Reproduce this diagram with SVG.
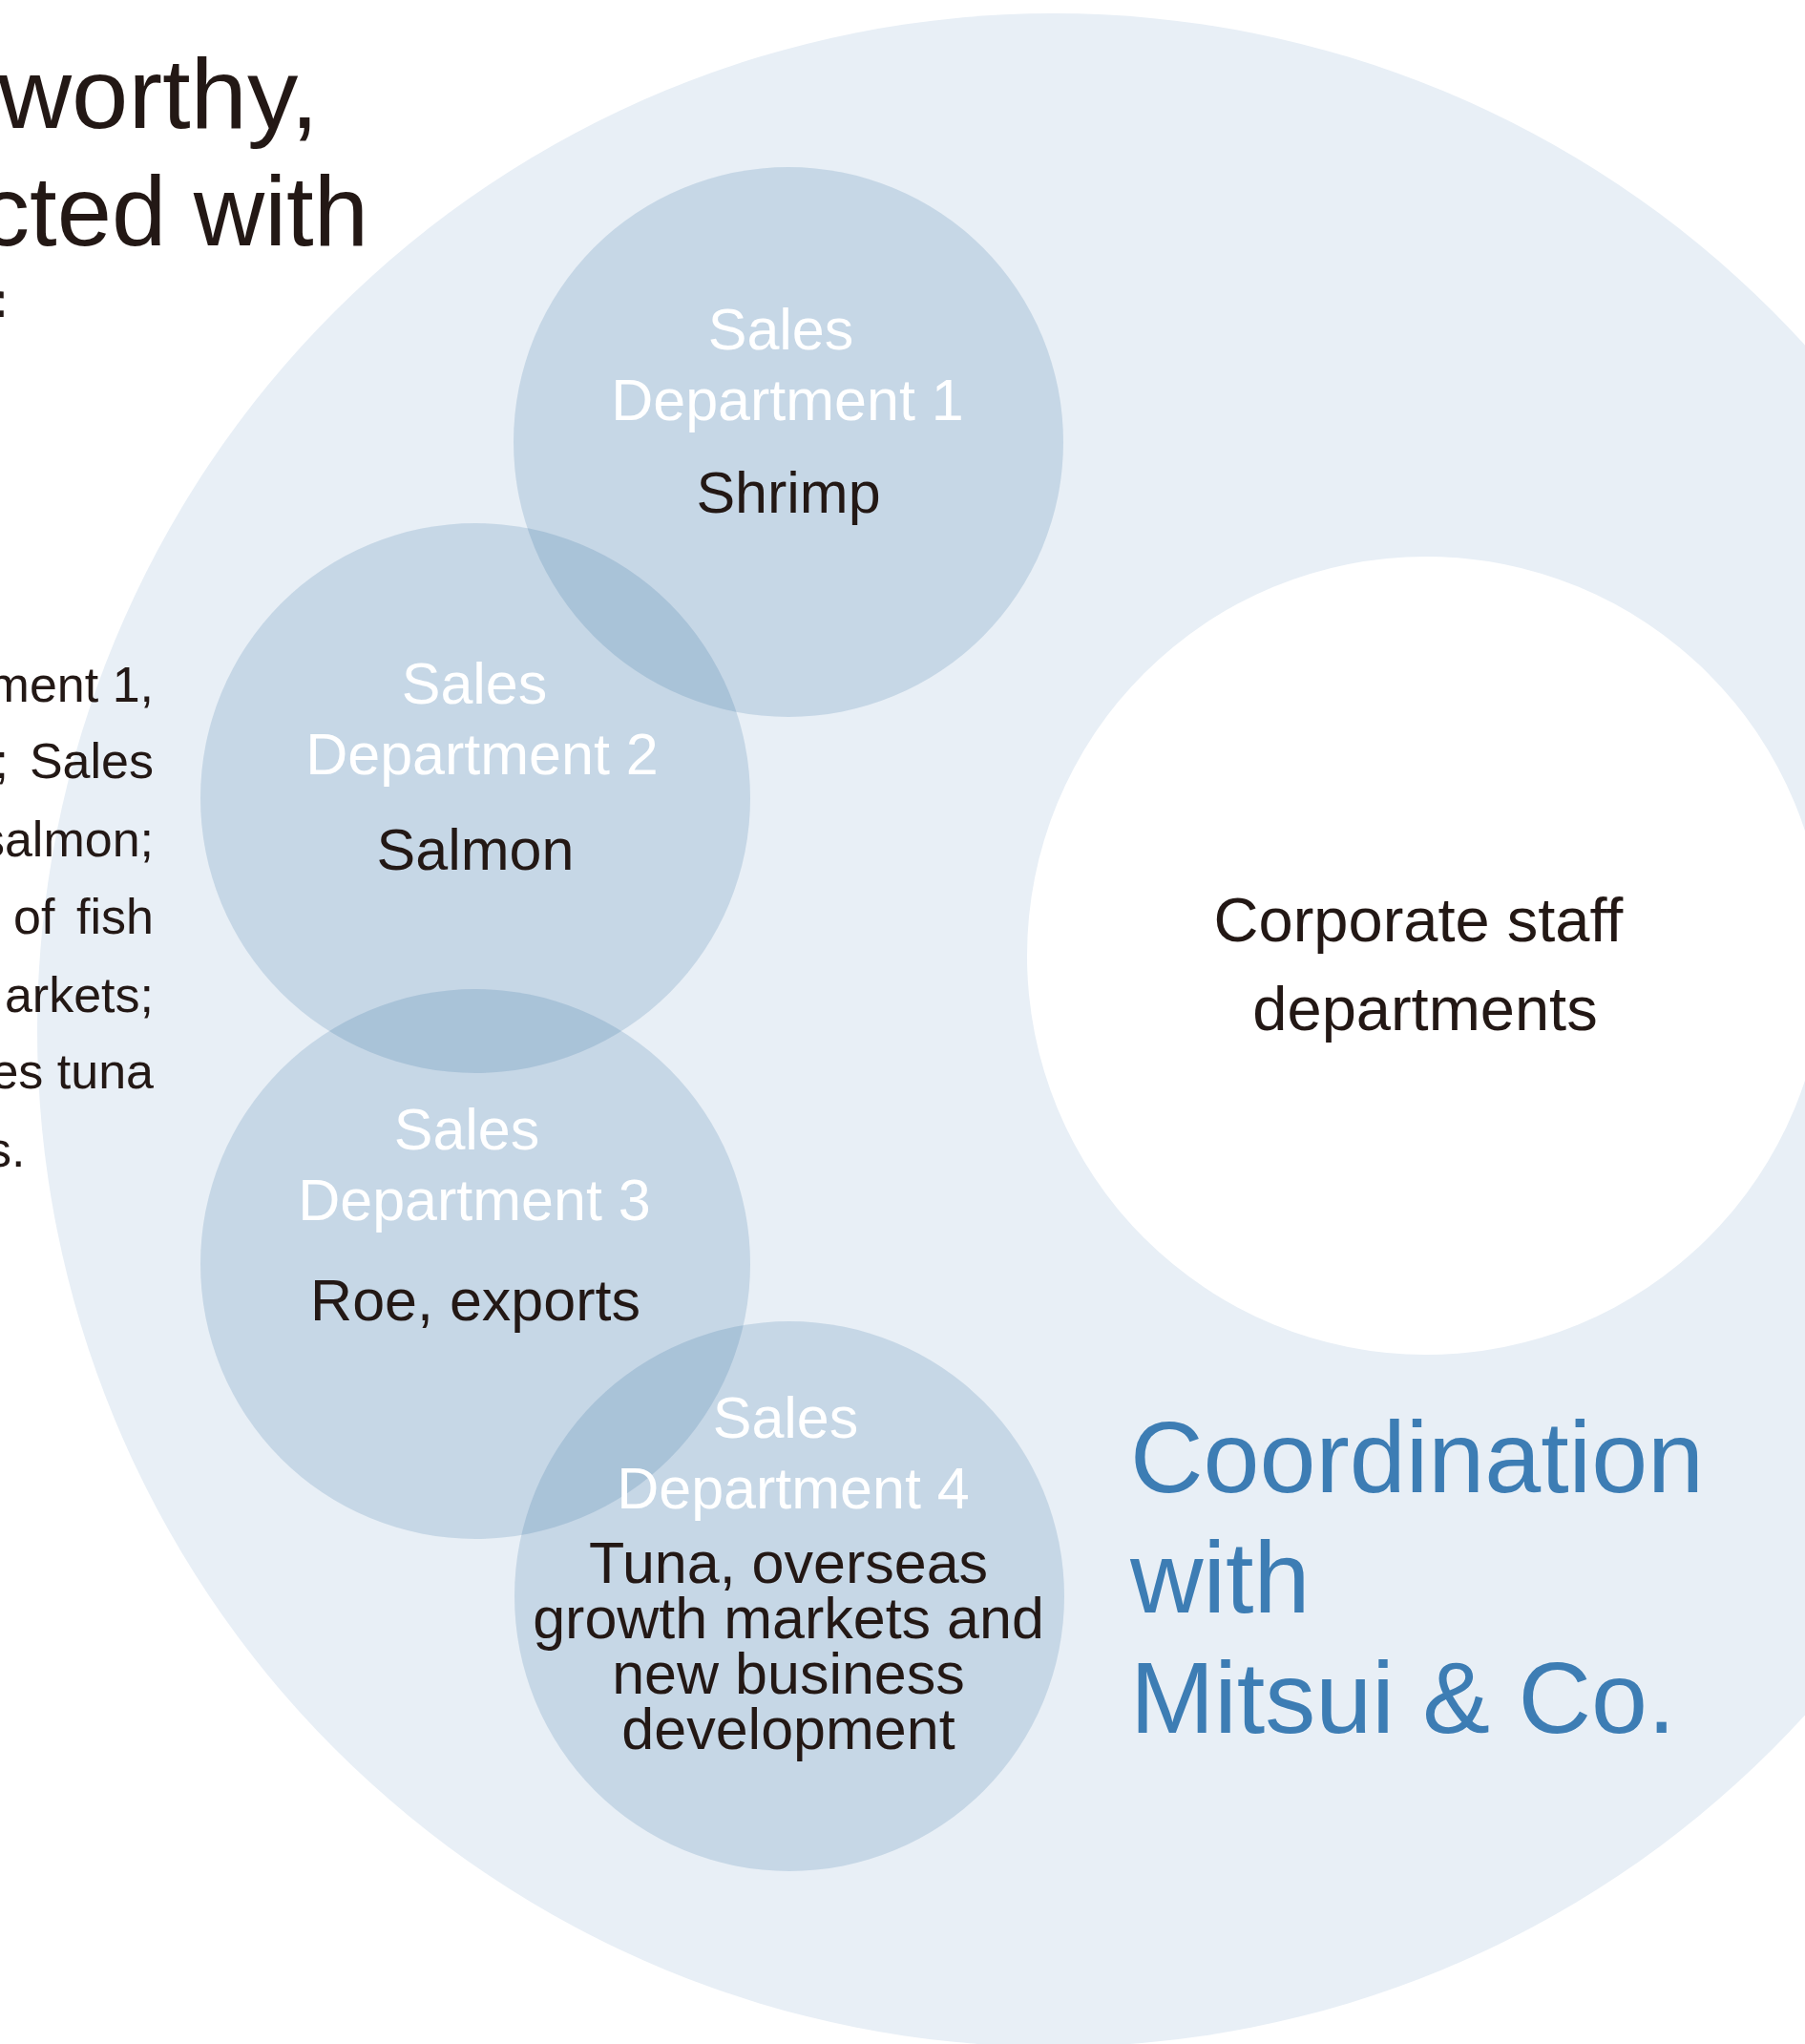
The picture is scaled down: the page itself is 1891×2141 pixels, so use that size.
<svg xmlns="http://www.w3.org/2000/svg" width="1891" height="2141" viewBox="0 0 1891 2141">
<style>
text{font-family:"Liberation Sans",Arial,Helvetica,sans-serif}
.dk{fill:#231815}
.wh{fill:#ffffff}
.ttl{font-size:103px}
.par{font-size:52px}
.lbl{font-size:61px;text-anchor:middle}
.dept{fill:#054f8b;fill-opacity:0.15}
.blue{fill:#3d7db4;font-size:106px}
</style>
<rect width="1891" height="2141" fill="#ffffff"/>
<g id="mitsui-circle">
<circle cx="1104" cy="1079" r="1065" fill="#e8eff6"/>
</g>
<g id="title">
<text class="ttl dk" x="-2" y="134" textLength="336" lengthAdjust="spacingAndGlyphs">worthy,</text>
<text class="ttl dk" x="386" y="257" text-anchor="end">cted with</text>
<text class="ttl dk" x="-25" y="380">f</text>
</g>
<g id="paragraph" class="par dk">
<text x="161" y="735" text-anchor="end">ment 1,</text>
<text x="9" y="815" text-anchor="end">;</text>
<text x="161" y="815" text-anchor="end">Sales</text>
<text x="161" y="897" text-anchor="end">salmon;</text>
<text x="14" y="978">of</text>
<text x="161" y="978" text-anchor="end">fish</text>
<text x="161" y="1060" text-anchor="end">arkets;</text>
<text x="161" y="1140" text-anchor="end">es tuna</text>
<text x="-14" y="1222">s.</text>
</g>
<g id="corporate-staff">
<circle cx="1494" cy="1001" r="418" fill="#ffffff"/>
<text class="dk" x="1486" y="986" font-size="65" text-anchor="middle">Corporate staff</text>
<text class="dk" x="1493" y="1079" font-size="65" text-anchor="middle">departments</text>
</g>
<g id="sales-dept-1">
<circle class="dept" cx="826" cy="463" r="288"/>
<text class="lbl wh" x="818" y="366">Sales</text>
<text class="lbl wh" x="825" y="440">Department 1</text>
<text class="lbl dk" x="826" y="537">Shrimp</text>
</g>
<g id="sales-dept-2">
<circle class="dept" cx="498" cy="836" r="288"/>
<text class="lbl wh" x="497" y="737">Sales</text>
<text class="lbl wh" x="505" y="811">Department 2</text>
<text class="lbl dk" x="498" y="911">Salmon</text>
</g>
<g id="sales-dept-3">
<circle class="dept" cx="498" cy="1324" r="288"/>
<text class="lbl wh" x="489" y="1204">Sales</text>
<text class="lbl wh" x="497" y="1278">Department 3</text>
<text class="lbl dk" x="498" y="1383">Roe, exports</text>
</g>
<g id="sales-dept-4">
<circle class="dept" cx="827" cy="1672" r="288"/>
<text class="lbl wh" x="823" y="1506">Sales</text>
<text class="lbl wh" x="831" y="1580">Department 4</text>
<text class="lbl dk" x="826" y="1658" font-size="60">Tuna, overseas</text>
<text class="lbl dk" x="826" y="1716" font-size="60">growth markets and</text>
<text class="lbl dk" x="826" y="1774" font-size="60">new business</text>
<text class="lbl dk" x="826" y="1832" font-size="60">development</text>
</g>
<g id="coordination">
<text class="blue" x="1184" y="1563">Coordination</text>
<text class="blue" x="1184" y="1689">with</text>
<text class="blue" x="1184" y="1815">Mitsui &amp; Co.</text>
</g>
<g id="connectors"></g>
</svg>
